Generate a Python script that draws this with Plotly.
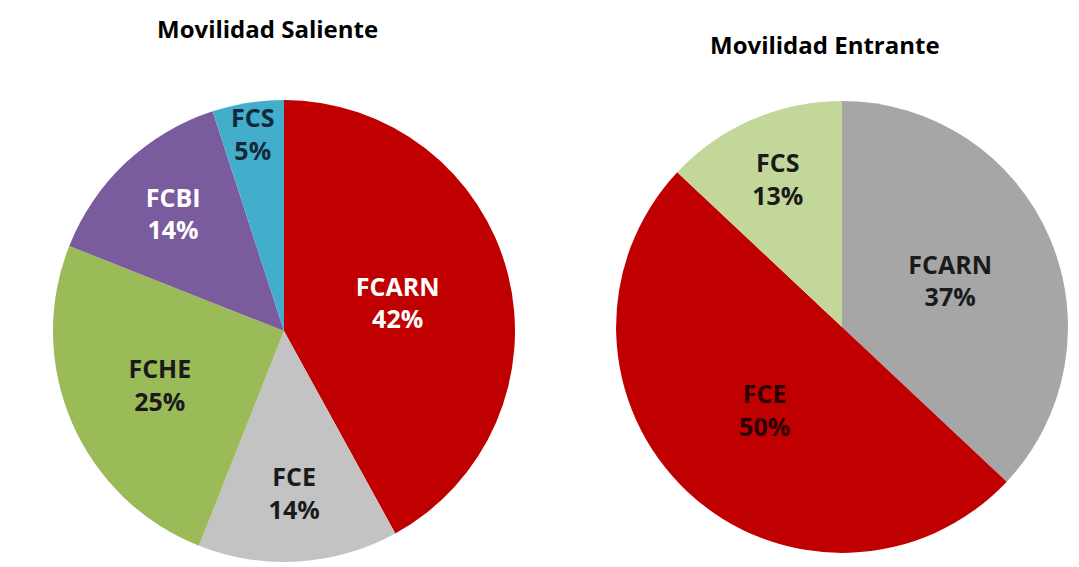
import plotly.graph_objects as go

# Movilidad Saliente
out_labels = ["FCARN", "FCE", "FCHE", "FCBI", "FCS"]
out_values = [42, 14, 25, 14, 5]
out_colors = ["#C00000", "#C3C3C3", "#9BBB59", "#7A5C9E", "#42AECB"]
out_text_colors = ["#FFFFFF", "#1a1a1a", "#1a1a1a", "#FFFFFF", "#13283a"]

# Movilidad Entrante
in_labels = ["FCARN", "FCE", "FCS"]
in_values = [37, 50, 13]
in_colors = ["#A6A6A6", "#C00000", "#C4D79B"]
in_text_colors = ["#1a1a1a", "#2a0000", "#1a1a1a"]

FONT = "Open Sans"
W, H = 1079, 567
OFF = 8  # default page body margin in the written HTML


def xdom(cx, r):
    return [(cx - OFF - r) / W, (cx - OFF + r) / W]


def ydom(cy, r):
    return [1 - (cy - OFF + r) / H, 1 - (cy - OFF - r) / H]


fig = go.Figure()
fig.add_trace(go.Pie(
    labels=out_labels, values=out_values, sort=False, direction="clockwise", rotation=0,
    marker=dict(colors=out_colors, line=dict(width=0)),
    texttemplate="<b>%{label}<br>%{percent:.0%}</b>", textposition="inside",
    insidetextorientation="horizontal",
    textfont=dict(family=FONT, size=25, color=out_text_colors),
    domain=dict(x=xdom(284, 231), y=ydom(331, 231)),
    showlegend=False, hoverinfo="label+percent",
))
fig.add_trace(go.Pie(
    labels=in_labels, values=in_values, sort=False, direction="clockwise", rotation=0,
    marker=dict(colors=in_colors, line=dict(width=0)),
    texttemplate="<b>%{label}<br>%{percent:.0%}</b>", textposition="inside",
    insidetextorientation="horizontal",
    textfont=dict(family=FONT, size=25, color=in_text_colors),
    domain=dict(x=xdom(842, 226), y=ydom(327, 226)),
    showlegend=False, hoverinfo="label+percent",
))

fig.update_layout(
    width=W, height=H,
    margin=dict(l=0, r=0, t=0, b=0),
    paper_bgcolor="white", plot_bgcolor="white",
    uniformtext=dict(minsize=24, mode="show"),
    annotations=[
        dict(text="<b>Movilidad Saliente</b>", x=(267 - OFF) / W, y=1 - (28 - OFF) / H,
             xref="paper", yref="paper", xanchor="center", yanchor="middle", showarrow=False,
             font=dict(family=FONT, size=24, color="black")),
        dict(text="<b>Movilidad Entrante</b>", x=(825 - OFF) / W, y=1 - (44 - OFF) / H,
             xref="paper", yref="paper", xanchor="center", yanchor="middle", showarrow=False,
             font=dict(family=FONT, size=24, color="black")),
    ],
)

fig.write_html("out.html")
